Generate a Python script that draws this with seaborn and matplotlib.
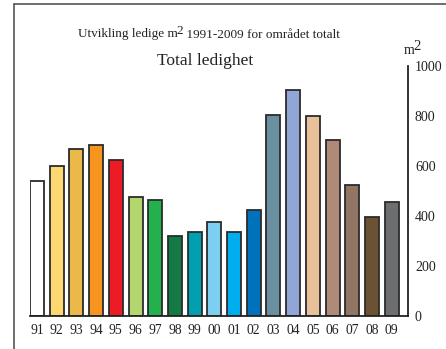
import matplotlib
matplotlib.use("Agg")
import matplotlib.pyplot as plt
from matplotlib.lines import Line2D
from matplotlib.transforms import offset_copy
import seaborn as sns
import pandas as pd

# Vacant floor space per year (m2)
years = ["91", "92", "93", "94", "95", "96", "97", "98", "99", "00",
         "01", "02", "03", "04", "05", "06", "07", "08", "09"]
vacant_m2 = [540, 600, 670, 685, 625, 475, 465, 320, 335, 375,
             335, 425, 805, 905, 800, 705, 525, 395, 455]
bar_colors = ["#FFFFFF", "#FDD870", "#EBB94A", "#F7941D", "#ED1C24",
              "#B3D66E", "#22B14C", "#137A45", "#00A0B0", "#7CCFF0",
              "#00AEEF", "#0072BC", "#6A8FA0", "#8FA6D6", "#E8C09A",
              "#B08A78", "#927564", "#6A5233", "#6D6E71"]
y_ticks = [0, 200, 400, 600, 800, 1000]

sns.set_style("white")
plt.rcParams["font.family"] = ["Liberation Serif", "DejaVu Serif"]

TEXT_COLOR = "#222222"

df = pd.DataFrame({"year": years, "m2": vacant_m2})

fig = plt.figure(figsize=(4.46, 3.49), dpi=100)
ax = fig.add_axes([30 / 446, 33 / 349, 378 / 446, 250 / 349])

sns.barplot(data=df, x="year", y="m2", hue="year", palette=bar_colors,
            legend=False, width=0.71, edgecolor="#2b2b2b", linewidth=1.3,
            saturation=1, ax=ax)

ax.set_xlim(-0.355, 18.83)
ax.set_ylim(0, 1000)
ax.set_yticks(y_ticks)
ax.yaxis.tick_right()
ax.tick_params(axis="y", length=0, pad=5, labelsize=10, colors=TEXT_COLOR)
ax.tick_params(axis="x", length=0, pad=6, labelsize=9.8, colors=TEXT_COLOR)
ax.set_xlabel("")
ax.set_ylabel("")
ax.grid(False)

for side in ("top", "left"):
    ax.spines[side].set_visible(False)
for side in ("bottom", "right"):
    ax.spines[side].set_visible(True)
    ax.spines[side].set_color(TEXT_COLOR)
    ax.spines[side].set_linewidth(1.3)


def chained_text(x_px, y_px, parts, size):
    """Write text pieces one after another; each piece is (text, raise_pt, scale, kern_pt)."""
    renderer = fig.canvas.get_renderer()
    x, y = x_px / 446, 1 - y_px / 349
    trans = fig.transFigure
    dx_pt = 0.0
    for txt, rise, scale, kern in parts:
        t = fig.text(x, y, txt, ha="left", va="baseline", fontsize=size * scale,
                     color=TEXT_COLOR,
                     transform=offset_copy(trans, fig=fig, x=dx_pt, y=rise,
                                           units="points"))
        w = t.get_window_extent(renderer=renderer).width
        dx_pt += w * 72 / fig.dpi + kern


# Subtitle, title and unit label
chained_text(78, 37.5, [("Utvikling ledige m", 0, 1.0, -0.8),
                        ("2", 2.4, 1.0, 0.0),
                        (" 1991-2009 for området totalt", 0, 1.0, 0.0)], 9.5)
fig.text(205 / 446, 1 - 61 / 349, "Total ledighet",
         ha="center", va="center", fontsize=12.5, color=TEXT_COLOR)
chained_text(404, 54, [("m", 0, 1.0, -0.8), ("2", 2.9, 1.05, 0.0)], 10)

# Outer frame (top and left edges)
fig.add_artist(Line2D([14 / 446, 14 / 446], [0, 1 - 3.5 / 349],
                      transform=fig.transFigure, color="#555555", lw=1.2))
fig.add_artist(Line2D([14 / 446, 1], [1 - 3.5 / 349, 1 - 3.5 / 349],
                      transform=fig.transFigure, color="#555555", lw=1.2))

fig.savefig("out.png", dpi=100, facecolor="white")
